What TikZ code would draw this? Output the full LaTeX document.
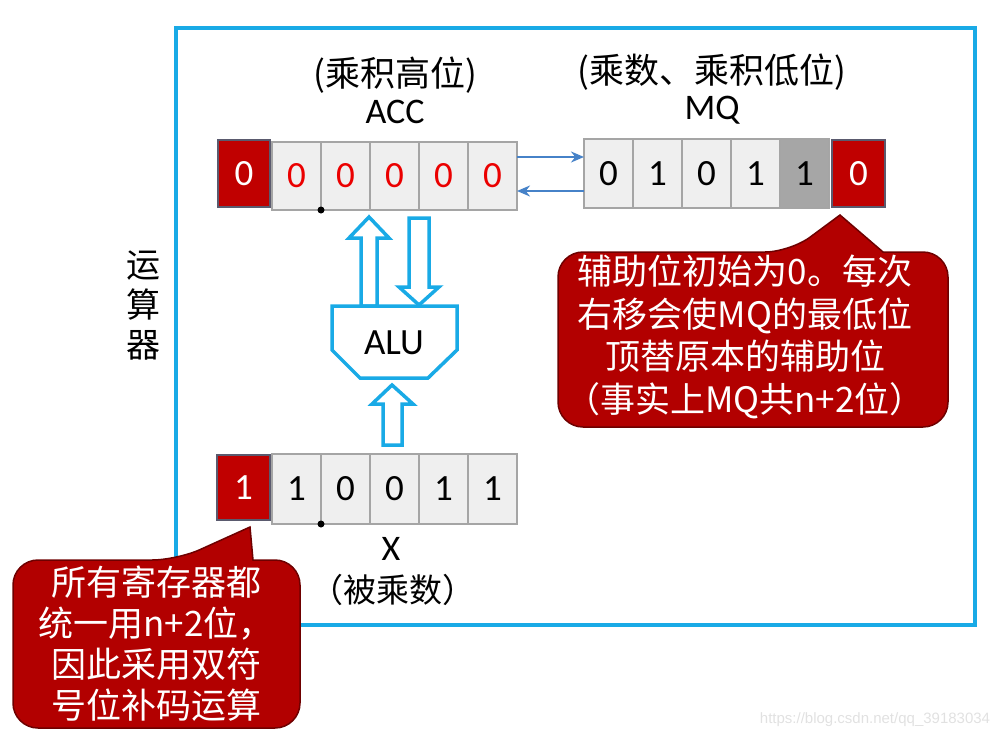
\documentclass[tikz,border=0pt]{standalone}
\usepackage{fontspec}
\setmainfont{Carlito}
\newfontfamily\cjk{Noto Sans CJK SC}
\newfontfamily\wmfont{Liberation Sans}
\usetikzlibrary{arrows.meta}
\definecolor{frameblue}{RGB}{25,170,230}
\definecolor{arrowblue}{RGB}{70,130,200}
\definecolor{signred}{RGB}{192,0,0}
\definecolor{signedge}{RGB}{90,90,110}
\definecolor{calloutred}{RGB}{178,0,0}
\definecolor{calloutedge}{RGB}{110,0,0}
\definecolor{cellfill}{RGB}{239,239,239}
\definecolor{celledge}{RGB}{165,165,165}
\definecolor{cellgray}{RGB}{166,166,166}
\definecolor{digitred}{RGB}{235,0,0}
\definecolor{wmgray}{RGB}{225,225,225}
\begin{document}
\begin{tikzpicture}[x=1pt,y=-1pt,
  cell/.style={draw=celledge, line width=2pt, fill=cellfill, minimum width=49pt,
    minimum height=68pt, inner sep=0pt, outer sep=0pt, anchor=north west, font=\fontsize{37}{42}\selectfont},
  redcell/.style={cell, text=digitred},
  graycell/.style={cell, fill=cellgray},
  signbox/.style={draw=signedge, line width=1.5pt, fill=signred, text=white, minimum width=52pt,
    minimum height=67pt, inner sep=0pt, outer sep=0pt, anchor=north west, font=\fontsize{37}{42}\selectfont},
  cjklabel/.style={inner sep=0pt, font=\cjk\fontsize{35}{40}\selectfont},
  latlabel/.style={inner sep=0pt, font=\fontsize{36}{40}\selectfont},
  hollow/.style={draw=frameblue, line width=3.5pt, fill=white, line join=miter},
  smallarrow/.style={draw=arrowblue, line width=2.8pt, -{Stealth[length=13pt,width=11pt]}},
  callout/.style={draw=calloutedge, line width=1.5pt, fill=calloutred},
  callouttext/.style={inner sep=0pt, text=white, align=center, font=\cjk\fontsize{35}{42.5}\selectfont},
  dot/.style={fill=black}
]
\useasboundingbox (0,0) rectangle (1006,739);

% frame
\draw[frameblue, line width=4pt] (176,28) rectangle (975,625);

% ACC register
\node[signbox] (accs) at (218,140) {0};
\node[redcell] (acc1) at (272,142) {0};
\node[redcell] (acc2) at (acc1.north east) {0};
\node[redcell] (acc3) at (acc2.north east) {0};
\node[redcell] (acc4) at (acc3.north east) {0};
\node[redcell] (acc5) at (acc4.north east) {0};
\fill[dot] (acc1.south east) circle (3.5);

% MQ register
\node[cell, minimum height=69pt] (mq1) at (584,139) {0};
\node[cell, minimum height=69pt] (mq2) at (mq1.north east) {1};
\node[cell, minimum height=69pt] (mq3) at (mq2.north east) {0};
\node[cell, minimum height=69pt] (mq4) at (mq3.north east) {1};
\node[graycell, minimum height=69pt] (mq5) at (mq4.north east) {1};
\node[signbox, minimum width=53pt] (mqaux) at (832,140) {0};

% X register
\node[signbox, minimum width=53pt, minimum height=65pt] (xs) at (217,455) {1};
\node[cell, minimum height=70pt] (x1) at (272,454) {1};
\node[cell, minimum height=70pt] (x2) at (x1.north east) {0};
\node[cell, minimum height=70pt] (x3) at (x2.north east) {0};
\node[cell, minimum height=70pt] (x4) at (x3.north east) {1};
\node[cell, minimum height=70pt] (x5) at (x4.north east) {1};
\fill[dot] (x1.south east) circle (3.5);

% arrows between ACC and MQ
\draw[smallarrow] ([yshift=19pt]acc5.east) -- ([yshift=19pt]acc5.east -| mq1.west);
\draw[smallarrow] ([yshift=-15pt]acc5.east -| mq1.west) -- ([yshift=-15pt]acc5.east);

% labels
\node[cjklabel] (acclbl) at (395,75) {(乘积高位)};
\node[latlabel] (accname) at (395,112) {ACC};
\node[cjklabel] (mqlbl) at (712,72) {(乘数、乘积低位)};
\node[latlabel] (mqname) at (712,110) {MQ};
\node[latlabel] (xname) at (391,549) {X};
\node[cjklabel, font=\cjk\fontsize{33}{36}\selectfont] (xlbl) at (393,590) {（被乘数）};
\node[cjklabel, align=center, font=\cjk\fontsize{34}{40}\selectfont] (unit) at (143,305) {运\\算\\器};

% hollow arrows and ALU
\draw[hollow] (361,306) -- (361,238) -- (349,238) -- (369,217) -- (389,238) -- (377,238) -- (377,306) -- cycle;
\draw[hollow] (332,306) -- (457,306) -- (457,350) -- (428,378) -- (360,378) -- (332,350) -- cycle;
\node[latlabel, font=\fontsize{37}{40}\selectfont] (alu) at (394,343) {ALU};
\draw[hollow] (409,218) -- (429,218) -- (429,287) -- (439,287) -- (419,305) -- (399,287) -- (409,287) -- cycle;
\draw[hollow] (383,445) -- (383,404) -- (372,404) -- (392,385) -- (413,404) -- (402,404) -- (402,445) -- cycle;

% right callout
\draw[callout] (790,252) -- (840,215) -- (883,252) [rounded corners=25pt] -- (948,252) -- (948,427) -- (558,427) -- (558,252) -- cycle;
\node[callouttext] (note1) at (745,337) {辅助位初始为0。每次\\右移会使MQ的最低位\\顶替原本的辅助位\\（事实上MQ共n+2位）};

% left callout
\draw[callout] (177,560) -- (250,527) -- (253,560) [rounded corners=25pt] -- (300,560) -- (300,728) -- (13,728) -- (13,560) -- cycle;
\node[callouttext, font=\cjk\fontsize{35}{41}\selectfont] (note2) at (156,644) {所有寄存器都\\统一用n+2位，\\因此采用双符\\号位补码运算};

% watermark
\node[inner sep=0pt, text=wmgray, font=\wmfont\fontsize{15}{18}\selectfont] (wm) at (875,720) {https://blog.csdn.net/qq\_39183034};
\end{tikzpicture}
\end{document}
